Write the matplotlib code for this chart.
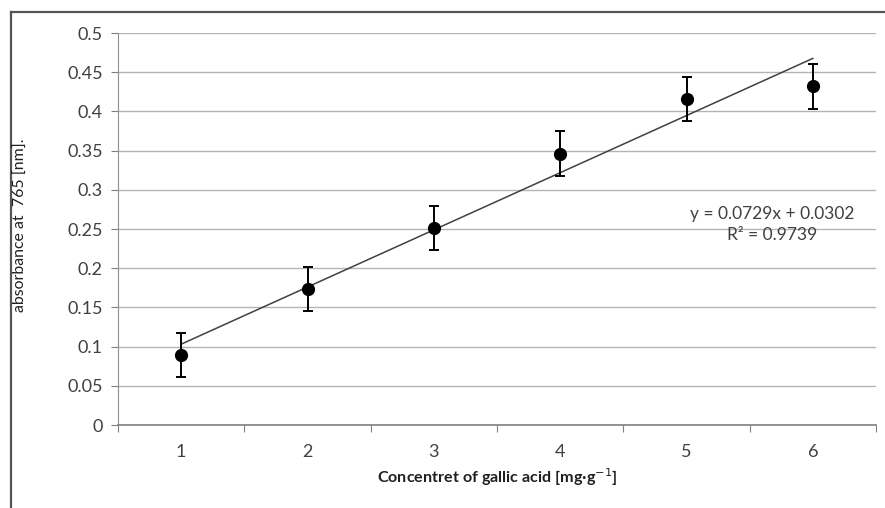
import matplotlib
matplotlib.use("Agg")
import matplotlib.pyplot as plt
from matplotlib.lines import Line2D

# data
concentration = [1, 2, 3, 4, 5, 6]
absorbance = [0.089, 0.173, 0.251, 0.346, 0.416, 0.432]
abs_error = [0.028, 0.028, 0.028, 0.029, 0.028, 0.029]
fit_slope = 0.0729
fit_intercept = 0.0302
fit_r2 = 0.9739
y_ticks = [0, 0.05, 0.1, 0.15, 0.2, 0.25, 0.3, 0.35, 0.4, 0.45, 0.5]

plt.rcParams['font.family'] = ['Lato', 'DejaVu Sans']

fig = plt.figure(figsize=(8.85, 5.08), dpi=100)
ax = fig.add_axes([118 / 885, 1 - 425 / 508, (876 - 118) / 885, (425 - 33) / 508])

# outer chart frame (top and left edges only visible)
fig.add_artist(Line2D([11 / 885, 1], [1 - 12 / 508, 1 - 12 / 508], color="#555555", lw=1.6))
fig.add_artist(Line2D([11 / 885, 11 / 885], [0, 1 - 12 / 508], color="#555555", lw=1.6))

ax.set_xlim(0.5, 6.5)
ax.set_ylim(0, 0.5)
ax.set_yticks(y_ticks)
ax.set_yticklabels([f"{t:g}" for t in y_ticks])
ax.grid(axis="y", color="#b4b4b4", lw=1)
ax.set_axisbelow(True)

# category style x axis: ticks between categories, labels at centres
ax.set_xticks([c - 0.5 for c in concentration] + [concentration[-1] + 0.5])
ax.set_xticklabels([])
ax.set_xticks(concentration, minor=True)
ax.set_xticklabels([str(c) for c in concentration], minor=True)
ax.tick_params(axis="x", which="major", direction="out", length=5, color="#808080")
ax.tick_params(axis="x", which="minor", length=0, pad=14, labelsize=13, labelcolor="#404040")
ax.tick_params(axis="y", direction="out", length=5, color="#808080", labelsize=13,
               labelcolor="#404040", pad=6)

for side in ["top", "right"]:
    ax.spines[side].set_visible(False)
ax.spines["left"].set_color("#909090")
ax.spines["bottom"].set_color("#808080")
ax.spines["bottom"].set_linewidth(1.2)

# linear trendline
x_fit = [concentration[0], concentration[-1]]
y_fit = [fit_slope * x + fit_intercept for x in x_fit]
ax.plot(x_fit, y_fit, color="#404040", lw=1.1, zorder=3)

ax.errorbar(concentration, absorbance, yerr=abs_error, fmt="o", color="black",
            ms=8.5, elinewidth=1.4, capsize=3.5, capthick=1.4, zorder=4)

ax.text(5.68, 0.256, f"y = {fit_slope}x + {fit_intercept}\nR² = {fit_r2}",
        ha="center", va="center", fontsize=12.5, color="#404040", linespacing=1.35)

fig.text(497 / 885, 1 - 477 / 508, "Concentret of gallic acid [mg·g$^{-1}$]",
         ha="center", va="center", fontsize=11.6, fontweight="bold", color="#202020")
fig.text(21 / 885, 1 - 225 / 508, "absorbance at  765 [nm].", rotation=90,
         ha="center", va="center", fontsize=11.4, color="#202020")

fig.savefig("out.png", dpi=100)
